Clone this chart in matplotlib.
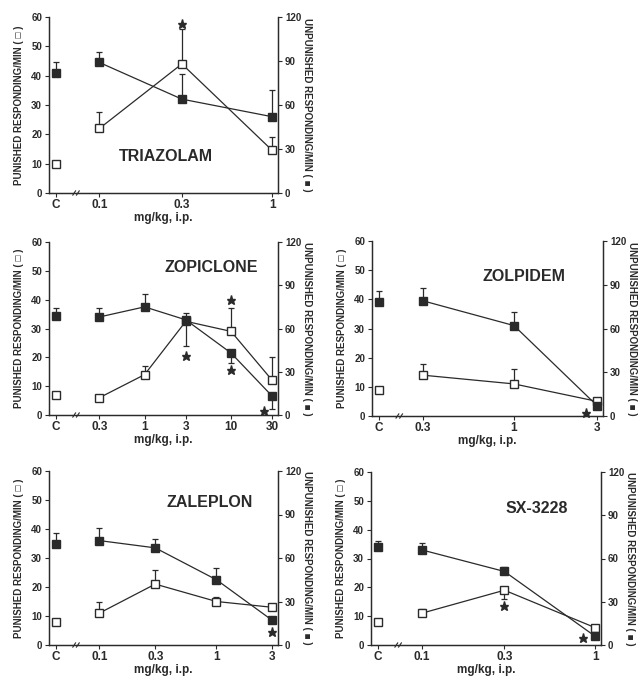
import matplotlib
matplotlib.use("Agg")
import matplotlib.pyplot as plt
import numpy as np

plt.rcParams['font.family'] = ['Liberation Sans', 'DejaVu Sans']
plt.rcParams['font.weight'] = 'bold'

INK = '#2a2a2a'

# ---- data (punished on left axis, 0-60; unpunished on right axis, 0-120) ----
# error sign: + bar drawn upward, - bar drawn downward, 0 no bar
tri_doses = [0.1, 0.3, 1]
tri_pun_c, tri_pun_c_err = 10, 0
tri_pun = [22, 44, 14.5]
tri_pun_err = [5.5, 12, 4.5]
tri_unp_c, tri_unp_c_err = 82, 7
tri_unp = [89, 64, 52]
tri_unp_err = [7, 17, 18]
tri_stars = [(0.3, 57.5)]

zop_doses = [0.3, 1, 3, 10, 30]
zop_pun_c, zop_pun_c_err = 7, 0
zop_pun = [6, 14, 32.5, 29, 12]
zop_pun_err = [0, 3, -8.5, 8, 8]
zop_unp_c, zop_unp_c_err = 69, 5
zop_unp = [68, 75, 66, 43, 13]
zop_unp_err = [6, 9, 5, -7, -9]
zop_stars = [(10, 40), (3, 20.5), (10, 15.5), (24, 1.5)]

zol_doses = [0.3, 1, 3]
zol_pun_c, zol_pun_c_err = 9, 0
zol_pun = [14, 11, 5]
zol_pun_err = [4, 5, 1]
zol_unp_c, zol_unp_c_err = 78, 8
zol_unp = [79, 62, 7]
zol_unp_err = [9, 9, 0]
zol_stars = [(2.6, 1)]

zal_doses = [0.1, 0.3, 1, 3]
zal_pun_c, zal_pun_c_err = 8, 0
zal_pun = [11, 21, 15, 13]
zal_pun_err = [4, 5, 1.5, 0]
zal_unp_c, zal_unp_c_err = 70, 7
zal_unp = [72, 67, 45, 17]
zal_unp_err = [9, 6, 8, 0]
zal_stars = [(3, 4.5)]

sx_doses = [0.1, 0.3, 1]
sx_pun_c, sx_pun_c_err = 8, 0
sx_pun = [11, 19, 6]
sx_pun_err = [1.5, -3, 0]
sx_unp_c, sx_unp_c_err = 68, 4
sx_unp = [66, 51, 6]
sx_unp_err = [5, 3, 0]
sx_stars = [(0.3, 13.5), (0.85, 2.5)]

W, H = 643, 680
fig = plt.figure(figsize=(W / 100, H / 100), dpi=100)

# panel boxes in pixels: left, top, right, bottom ; title position (axes fraction)
panels = [
    ("TRIAZOLAM", (49, 17, 278, 193), (0.51, 0.205),
     tri_doses, tri_pun_c, tri_pun_c_err, tri_pun, tri_pun_err,
     tri_unp_c, tri_unp_c_err, tri_unp, tri_unp_err, tri_stars),
    ("ZOPICLONE", (49, 242, 278, 415), (0.71, 0.85),
     zop_doses, zop_pun_c, zop_pun_c_err, zop_pun, zop_pun_err,
     zop_unp_c, zop_unp_c_err, zop_unp, zop_unp_err, zop_stars),
    ("ZOLPIDEM", (372, 241, 603, 416), (0.66, 0.795),
     zol_doses, zol_pun_c, zol_pun_c_err, zol_pun, zol_pun_err,
     zol_unp_c, zol_unp_c_err, zol_unp, zol_unp_err, zol_stars),
    ("ZALEPLON", (49, 471, 278, 645), (0.70, 0.82),
     zal_doses, zal_pun_c, zal_pun_c_err, zal_pun, zal_pun_err,
     zal_unp_c, zal_unp_c_err, zal_unp, zal_unp_err, zal_stars),
    ("SX-3228", (371, 472, 601, 645), (0.72, 0.79),
     sx_doses, sx_pun_c, sx_pun_c_err, sx_pun, sx_pun_err,
     sx_unp_c, sx_unp_c_err, sx_unp, sx_unp_err, sx_stars),
]


def split_err(err):
    err = np.asarray(err, dtype=float)
    return [np.where(err < 0, -err, 0), np.where(err > 0, err, 0)]


for (name, box, tpos, doses, pc, pce, pun, pune, uc, uce, unp, unpe, stars) in panels:
    l, t, r, b = box
    ax = fig.add_axes([l / W, 1 - b / H, (r - l) / W, (b - t) / H])
    ax2 = ax.twinx()

    # x: log dose, control placed to the left of the break
    lx = np.log10(doses)
    span = lx[-1] - lx[0]
    total = span / (0.975 - 0.22)
    x0 = lx[0] - 0.22 * total
    x1 = x0 + total
    xc = x0 + 0.03 * total
    for a in (ax, ax2):
        a.set_xlim(x0, x1)

    ax.set_ylim(0, 60)
    ax2.set_ylim(0, 120)
    ax.set_yticks(range(0, 61, 10))
    ax2.set_yticks(range(0, 121, 30))
    ax.set_xticks([xc] + list(lx))
    ax.set_xticklabels(['C'] + [f"{d:g}" for d in doses])

    for a in (ax, ax2):
        a.spines['top'].set_visible(False)
        for s in a.spines.values():
            s.set_color(INK)
            s.set_linewidth(0.9)
        a.tick_params(direction='out', length=3, width=0.8, colors=INK,
                      labelsize=7, pad=2)
    ax.tick_params(axis='x', labelsize=8.5, pad=1.5)
    for lab in ax.get_xticklabels() + ax.get_yticklabels() + ax2.get_yticklabels():
        lab.set_fontweight('bold')

    # punished (open squares, left axis)
    ax.plot(lx, pun, '-', color=INK, lw=0.9, zorder=3)
    ax.errorbar(lx, pun, yerr=split_err(pune), fmt='none', ecolor=INK,
                elinewidth=0.9, capsize=2.5, capthick=0.9, zorder=2)
    ax.plot(lx, pun, 's', ms=6, mfc='white', mec=INK, mew=1.0, zorder=6)
    if pce:
        ax.errorbar([xc], [pc], yerr=split_err([pce]), fmt='none', ecolor=INK,
                    elinewidth=0.9, capsize=2.5, capthick=0.9, zorder=2)
    ax.plot([xc], [pc], 's', ms=6, mfc='white', mec=INK, mew=1.0, zorder=6)

    # unpunished (filled squares, right axis)
    ax2.plot(lx, unp, '-', color=INK, lw=0.9, zorder=3)
    ax2.errorbar(lx, unp, yerr=split_err(unpe), fmt='none', ecolor=INK,
                 elinewidth=0.9, capsize=2.5, capthick=0.9, zorder=2)
    ax2.plot(lx, unp, 's', ms=6, mfc=INK, mec=INK, mew=1.0, zorder=6)
    if uce:
        ax2.errorbar([xc], [uc], yerr=split_err([uce]), fmt='none', ecolor=INK,
                     elinewidth=0.9, capsize=2.5, capthick=0.9, zorder=2)
    ax2.plot([xc], [uc], 's', ms=6, mfc=INK, mec=INK, mew=1.0, zorder=6)

    # significance stars
    sx_, sy_ = zip(*stars)
    ax2.plot(np.log10(sx_), np.array(sy_) * 2, '*', ms=6.5, color=INK,
             zorder=7, clip_on=False)

    # axis break marks
    bx = 0.118
    for dx in (-0.008, 0.008):
        ax.plot([bx + dx - 0.006, bx + dx + 0.006], [-0.012, 0.012],
                transform=ax.transAxes, color=INK, lw=0.8, clip_on=False)

    ax.set_xlabel("mg/kg, i.p.", fontsize=8.5, fontweight='bold', color=INK,
                  labelpad=0.5)
    ax.set_ylabel("PUNISHED RESPONDING/MIN ( \u25a1 )", fontsize=7,
                  fontweight='bold', color=INK, labelpad=5)
    ax2.set_ylabel("UNPUNISHED RESPONDING/MIN ( \u25a0 )", fontsize=7,
                   fontweight='bold', color=INK, rotation=270, labelpad=8)
    ax.text(tpos[0], tpos[1], name, transform=ax.transAxes, ha='center',
            va='center', fontsize=11.5, fontweight='bold', color=INK)
    ax2.set_zorder(ax.get_zorder() + 1)
    ax2.patch.set_visible(False)

fig.savefig("out.png", dpi=100, facecolor='white')
